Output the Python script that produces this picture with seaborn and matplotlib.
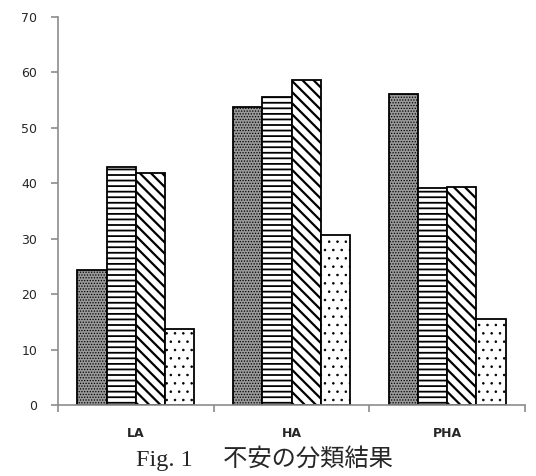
import numpy as np
import pandas as pd
import seaborn as sns
from matplotlib import pyplot as plt

categories = ['LA', 'HA', 'PHA']
series = ['s1', 's2', 's3', 's4']
s1 = [24.3, 53.8, 56.1]
s2 = [43.0, 55.5, 39.1]
s3 = [41.8, 58.7, 39.4]
s4 = [13.8, 30.6, 15.5]

df = pd.DataFrame({
    'cat': categories * 4,
    'series': np.repeat(series, 3),
    'val': s1 + s2 + s3 + s4,
})

sns.set_style('white')
plt.rcParams['hatch.linewidth'] = 1.3
plt.rcParams['font.family'] = ['DejaVu Sans', 'Noto Sans CJK JP']

fig = plt.figure(figsize=(5.36, 4.76), dpi=100)
ax = fig.add_axes([58 / 536, 71 / 476, 467 / 536, 388 / 476])

sns.barplot(data=df, x='cat', y='val', hue='series', order=categories,
            hue_order=series, palette=['#999999', 'white', 'white', 'white'],
            width=0.75, edgecolor='black', linewidth=1.3, saturation=1,
            legend=False, ax=ax)

hatches = ['......', '---', '\\\\\\', '..']
hatch_lw = [0.6, 1.3, 1.6, 0.6]
for cont, h, hl in zip(ax.containers, hatches, hatch_lw):
    for bar in cont:
        bar.set_hatch(h)
        if hasattr(bar, 'set_hatch_linewidth'):
            bar.set_hatch_linewidth(hl)

ax.set_ylim(0, 70)
ax.set_xlim(-0.5, 2.5)
ax.set_yticks(range(0, 71, 10))
ax.set_xlabel('')
ax.set_ylabel('')

for side in ['top', 'right']:
    ax.spines[side].set_visible(False)
for side in ['left', 'bottom']:
    ax.spines[side].set_color('#8c8c8c')
    ax.spines[side].set_linewidth(1.2)

ax.set_xticks([-0.5, 0.5, 1.5, 2.5], minor=True)
ax.tick_params(axis='x', which='major', bottom=True, length=0, pad=16, labelsize=9)
ax.tick_params(axis='x', which='minor', bottom=True, length=5, color='#8c8c8c', width=1.2, direction='out')
ax.tick_params(axis='y', left=True, length=5, color='#8c8c8c', width=1.2, direction='out', labelsize=9, pad=10)
for lbl in ax.get_xticklabels():
    lbl.set_fontweight('bold')

fig.text(0.4925, 0.038, 'Fig. 1 \u3000不安の分類結果', ha='center', va='center',
         fontsize=17.5, family=['Liberation Serif', 'Noto Sans CJK JP'])

plt.savefig('out.png', dpi=100)
